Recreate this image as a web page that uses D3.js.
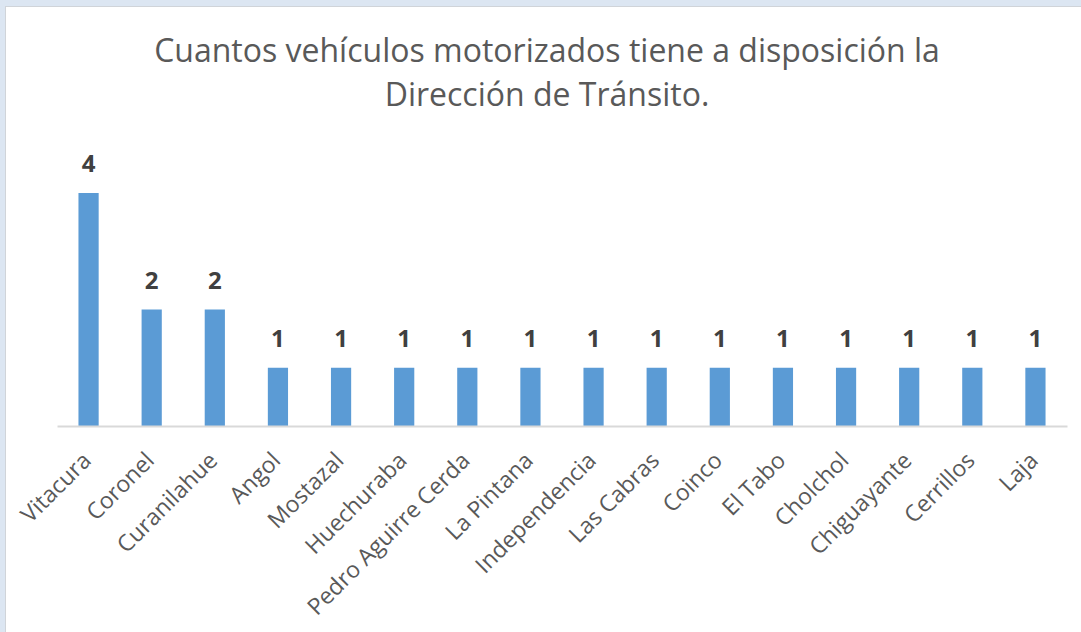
<!DOCTYPE html>
<html>
<head>
<meta charset="utf-8">
<script src="https://cdn.jsdelivr.net/npm/d3@7"></script>
<style>
  body { margin: 0; background: #dce6f2; }
  svg { display: block; }
</style>
</head>
<body>
<script>
var comunas = ["Vitacura", "Coronel", "Curanilahue", "Angol", "Mostazal", "Huechuraba",
  "Pedro Aguirre Cerda", "La Pintana", "Independencia", "Las Cabras", "Coinco",
  "El Tabo", "Cholchol", "Chiguayante", "Cerrillos", "Laja"];
var vehiculos = [4, 2, 2, 1, 1, 1, 1, 1, 1, 1, 1, 1, 1, 1, 1, 1];
var titulo = ["Cuantos vehículos motorizados tiene a disposición la", "Dirección de Tránsito."];

var W = 1081, H = 632;
var font = "'Open Sans', sans-serif";

var svg = d3.select("body").append("svg")
  .attr("width", W)
  .attr("height", H);

// fondo blanco del grafico con borde
svg.append("rect")
  .attr("x", 5.5).attr("y", 6.5)
  .attr("width", W).attr("height", H)
  .attr("fill", "#fff")
  .attr("stroke", "#d0d4d9");

var x = d3.scaleBand()
  .domain(comunas)
  .range([57, 1067])
  .paddingInner(0.68)
  .paddingOuter(0.34);

var y = d3.scaleLinear()
  .domain([0, 4])
  .range([426, 193]);

svg.selectAll("text.titulo")
  .data(titulo)
  .enter()
  .append("text")
  .attr("class", "titulo")
  .attr("x", 547)
  .attr("y", function (d, i) { return 62 + i * 44; })
  .attr("text-anchor", "middle")
  .style("font-family", font)
  .style("font-size", "32px")
  .style("fill", "#595959")
  .text(function (d) { return d; });

svg.selectAll("rect.barra")
  .data(vehiculos)
  .enter()
  .append("rect")
  .attr("class", "barra")
  .attr("x", function (d, i) { return x(comunas[i]); })
  .attr("y", function (d) { return y(d); })
  .attr("width", x.bandwidth())
  .attr("height", function (d) { return y(0) - y(d); })
  .attr("fill", "#5b9bd5");

// linea del eje
var eje = svg.append("g")
  .attr("transform", "translate(0," + y(0) + ")")
  .call(d3.axisBottom(x).tickSize(0).tickSizeOuter(0).tickPadding(0));
eje.select(".domain").attr("stroke", "#d9d9d9").attr("stroke-width", 2);
eje.selectAll("text")
  .attr("text-anchor", "end")
  .attr("dy", 0)
  .attr("transform", "translate(4,36) rotate(-45)")
  .style("font-family", font)
  .style("font-size", "23px")
  .style("fill", "#595959");

svg.selectAll("text.valor")
  .data(vehiculos)
  .enter()
  .append("text")
  .attr("class", "valor")
  .attr("x", function (d, i) { return x(comunas[i]) + x.bandwidth() / 2; })
  .attr("y", function (d) { return y(d) - 21; })
  .attr("text-anchor", "middle")
  .style("font-family", font)
  .style("font-size", "24px")
  .style("font-weight", "bold")
  .style("fill", "#404040")
  .text(function (d) { return d; });
</script>
</body>
</html>
